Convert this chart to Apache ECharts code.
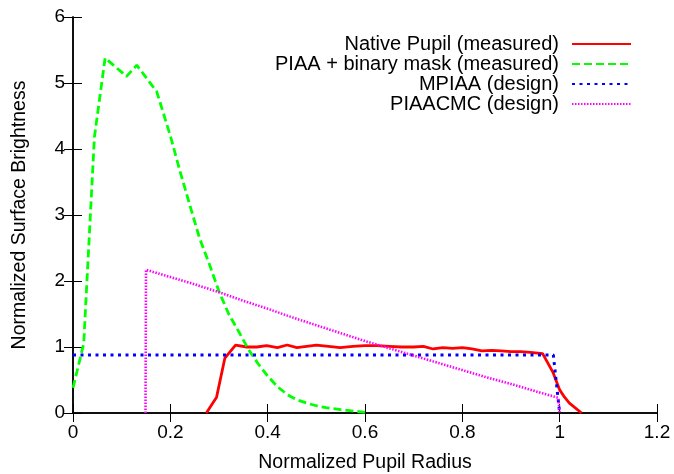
<!DOCTYPE html>
<html>
<head>
<meta charset="utf-8">
<script src="https://cdn.jsdelivr.net/npm/echarts@6/dist/echarts.min.js"></script>
<style>html,body{margin:0;padding:0;background:#fff}#c{width:674px;height:474px}</style>
</head>
<body>
<div id="c"></div>
<script>
var seriesNames = ['Native Pupil (measured)', 'PIAA + binary mask (measured)', 'MPIAA (design)', 'PIAACMC (design)'];

var nativeX = [0.274, 0.295, 0.312, 0.334, 0.357, 0.378, 0.398, 0.42, 0.44, 0.46, 0.48, 0.50, 0.525, 0.549, 0.575, 0.60, 0.625, 0.65, 0.675, 0.70, 0.72, 0.74, 0.76, 0.78, 0.80, 0.82, 0.84, 0.86, 0.88, 0.90, 0.92, 0.94, 0.965, 0.986, 1.0, 1.01, 1.02, 1.045];
var nativeY = [0, 0.24, 0.83, 1.03, 1.00, 1.00, 1.02, 0.99, 1.03, 0.99, 1.01, 1.03, 1.01, 0.99, 1.01, 1.02, 1.02, 1.01, 1.00, 1.00, 1.01, 0.97, 0.99, 0.98, 0.99, 0.97, 0.94, 0.95, 0.94, 0.93, 0.93, 0.92, 0.90, 0.62, 0.35, 0.24, 0.15, 0];

var piaaX = [0, 0.022, 0.044, 0.066, 0.110, 0.131, 0.172, 0.20, 0.22, 0.24, 0.26, 0.28, 0.30, 0.32, 0.34, 0.36, 0.38, 0.40, 0.42, 0.44, 0.46, 0.48, 0.50, 0.52, 0.55, 0.60];
var piaaY = [0.38, 1.05, 4.18, 5.38, 5.10, 5.27, 4.87, 4.2, 3.66, 3.15, 2.65, 2.26, 1.84, 1.5, 1.24, 0.97, 0.75, 0.56, 0.40, 0.28, 0.20, 0.15, 0.11, 0.08, 0.05, 0.01];

var mpiaaX = [0, 0.987, 1.0];
var mpiaaY = [0.88, 0.88, 0];

var cmcX = [0.149, 0.150, 0.2, 0.25, 0.3, 0.35, 0.4, 0.45, 0.5, 0.55, 0.6, 0.65, 0.7, 0.75, 0.8, 0.85, 0.9, 0.95, 0.997, 1.0];
var cmcY = [0, 2.17, 2.06, 1.95, 1.83, 1.70, 1.58, 1.45, 1.33, 1.21, 1.09, 0.98, 0.87, 0.76, 0.65, 0.54, 0.44, 0.33, 0.23, 0];

var xTicks = { min: 0, max: 1.2, interval: 0.2 };
var yTicks = { min: 0, max: 6, interval: 1 };

function pairs(xs, ys) { return xs.map(function (x, i) { return [x, ys[i]]; }); }

var font = 'Liberation Sans, Arial, Helvetica, sans-serif';
var chart = echarts.init(document.getElementById('c'), null, { renderer: 'canvas' });

var axisLine = { show: true, lineStyle: { color: '#000', width: 1.5 } };
var tick = { show: true, inside: true, length: 9, lineStyle: { color: '#000', width: 1 } };

chart.setOption({
  animation: false,
  backgroundColor: '#fff',
  grid: { left: 73, right: 17, top: 17, bottom: 61, containLabel: false, outerBoundsMode: 'none' },
  legend: {
    data: seriesNames,
    orient: 'vertical',
    right: 37,
    top: 29,
    align: 'right',
    itemWidth: 59,
    itemHeight: 12,
    itemGap: 0,
    itemStyle: { opacity: 0 },
    textStyle: { fontFamily: font, fontSize: 20, color: '#000', width: 280, align: 'right', padding: [0, 8, 0, 0] }
  },
  xAxis: [{
    type: 'value', min: xTicks.min, max: xTicks.max, interval: xTicks.interval,
    name: 'Normalized Pupil Radius', nameLocation: 'middle', nameGap: 40,
    nameTextStyle: { fontFamily: font, fontSize: 19.5, color: '#000' },
    axisLine: axisLine, axisTick: tick, splitLine: { show: false },
    axisLabel: { fontFamily: font, fontSize: 19, color: '#000', margin: 10 }
  }, {
    type: 'value', position: 'top', min: xTicks.min, max: xTicks.max, interval: xTicks.interval,
    axisLine: axisLine, axisTick: tick, splitLine: { show: false }, axisLabel: { show: false }
  }],
  yAxis: [{
    type: 'value', min: yTicks.min, max: yTicks.max, interval: yTicks.interval,
    name: 'Normalized Surface Brightness', nameLocation: 'middle', nameGap: 43,
    nameTextStyle: { fontFamily: font, fontSize: 19.5, color: '#000' },
    axisLine: axisLine, axisTick: tick, splitLine: { show: false },
    axisLabel: { fontFamily: font, fontSize: 19, color: '#000', margin: 8 }
  }, {
    type: 'value', position: 'right', min: yTicks.min, max: yTicks.max, interval: yTicks.interval,
    axisLine: axisLine, axisTick: tick, splitLine: { show: false }, axisLabel: { show: false }
  }],
  series: [{
    name: seriesNames[0], type: 'line', symbol: 'none', data: pairs(nativeX, nativeY),
    lineStyle: { color: '#ff0000', width: 2.8 }, itemStyle: { color: '#ff0000' }
  }, {
    name: seriesNames[1], type: 'line', symbol: 'none', data: pairs(piaaX, piaaY),
    lineStyle: { color: '#00ff00', width: 2.8, type: [8, 4] }, itemStyle: { color: '#00ff00' }
  }, {
    name: seriesNames[2], type: 'line', symbol: 'none', data: pairs(mpiaaX, mpiaaY),
    lineStyle: { color: '#0000ff', width: 3, type: [3, 4.5] }, itemStyle: { color: '#0000ff' }
  }, {
    name: seriesNames[3], type: 'line', symbol: 'none', data: pairs(cmcX, cmcY),
    lineStyle: { color: '#ff00ff', width: 2.6, type: [1.5, 1.5] }, itemStyle: { color: '#ff00ff' }
  }]
});
</script>
</body>
</html>
